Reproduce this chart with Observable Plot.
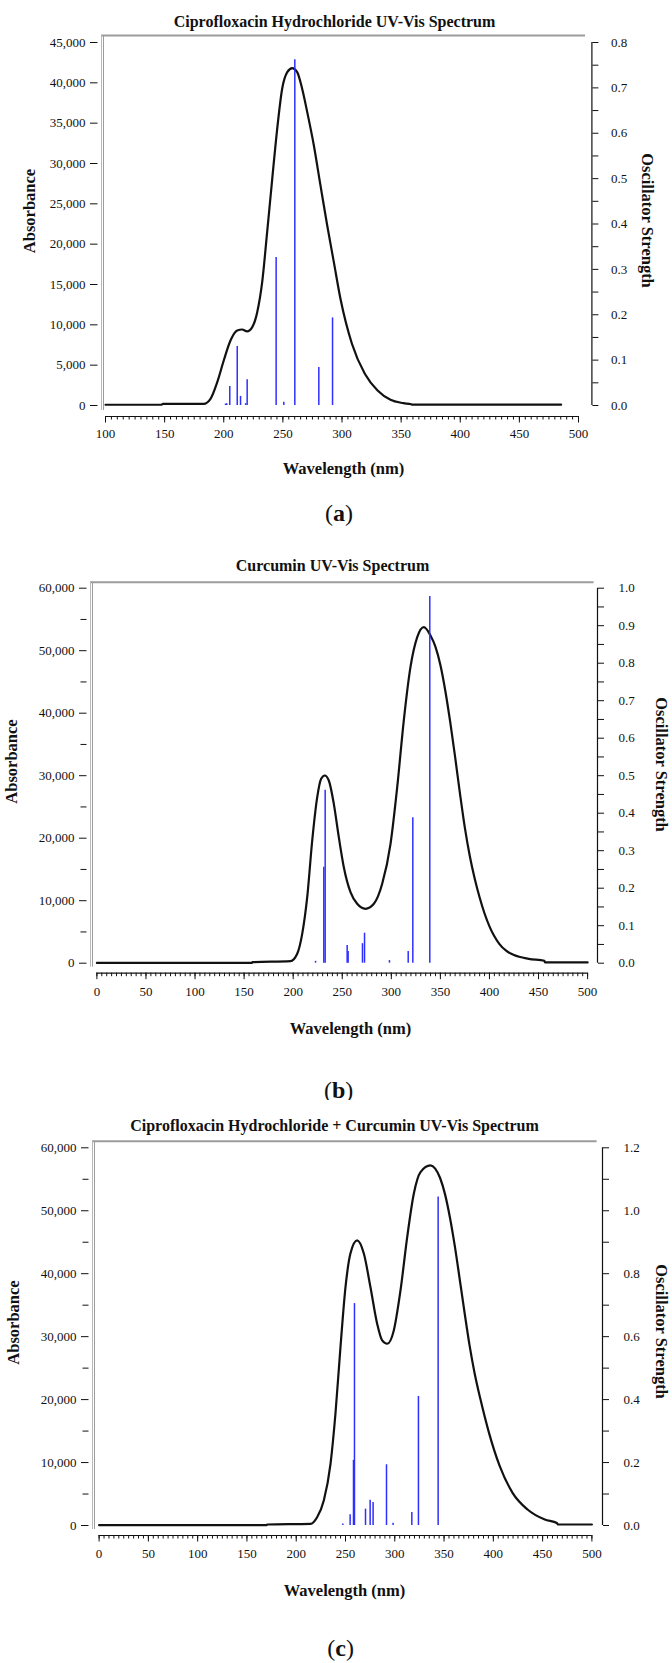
<!DOCTYPE html>
<html>
<head>
<meta charset="utf-8">
<script src="https://cdn.jsdelivr.net/npm/d3@7"></script>
<script src="https://cdn.jsdelivr.net/npm/@observablehq/plot@0.6"></script>
<style>
  body { margin: 0; background: #fff; }
  #root { position: relative; width: 672px; height: 1663px; overflow: hidden; background: #fff; }
  .panel { position: absolute; left: 0; }
  .cap { position: absolute; width: 80px; text-align: center; font-family: "Liberation Serif", "Times New Roman", serif; font-size: 24px; line-height: 28px; color: #111; }
</style>
</head>
<body>
<div id="root"></div>
<script>
// ---------- (a) Ciprofloxacin Hydrochloride ----------
const titleA = "Ciprofloxacin Hydrochloride UV-Vis Spectrum";
const wlA  = [100, 147.5, 148.5, 183, 188.8, 194.5, 200, 205.7, 211.4, 215.6, 219.8, 224.1, 228.3, 232.5, 236.7, 241, 245.2, 249.4, 253.7, 257.9, 262.1, 266.3, 270.6, 276.2, 281.8, 287.5, 293.1, 298.7, 308.4, 319.3, 330.1, 341, 351.9, 358.5, 359.5, 485.3];
const absA = [90, 90, 200, 210, 830, 2900, 5580, 8060, 9300, 9420, 9180, 9710, 11570, 15290, 21490, 28100, 34300, 39270, 41330, 41830, 41330, 39270, 36370, 32240, 27280, 22320, 17770, 13230, 7650, 3930, 1860, 700, 290, 150, 100, 100];
const stickWlA = [201.5, 202.5, 205.1, 211.4, 214.2, 218.5, 219.8, 244.3, 250.8, 260.1, 280.4, 292.0];
const stickFA  = [0.003, 0.004, 0.042, 0.130, 0.020, 0.004, 0.057, 0.326, 0.007, 0.762, 0.084, 0.193];
const xTicksA = [100, 150, 200, 250, 300, 350, 400, 450, 500];
const yTicksA = [0, 5000, 10000, 15000, 20000, 25000, 30000, 35000, 40000, 45000];
const yMinorA = [];
const fTicksA = [0.0, 0.1, 0.2, 0.3, 0.4, 0.5, 0.6, 0.7, 0.8];
const fMinorA = [0.05, 0.15, 0.25, 0.35, 0.45, 0.55, 0.65, 0.75];

// ---------- (b) Curcumin ----------
const titleB = "Curcumin UV-Vis Spectrum";
const wlB  = [0, 158, 158.5, 197.3, 204.1, 209.2, 214.3, 219.4, 224.5, 228.5, 232.2, 236.3, 241.4, 246.5, 251.6, 258.4, 265.2, 273.7, 282.2, 290.7, 299.2, 306, 312.7, 319.5, 326.4, 333.1, 339.9, 345, 350, 355, 360, 365, 370, 375, 380, 385, 390, 395, 400, 405, 410, 417, 425, 440, 456, 456.5, 500];
const absB = [50, 50, 160, 320, 1500, 4700, 10560, 19630, 26560, 29500, 30030, 29230, 25500, 20160, 15360, 11360, 9500, 8700, 9500, 12700, 19100, 28160, 38830, 47360, 52160, 53760, 52430, 50600, 47700, 43600, 38600, 33000, 27100, 21600, 17100, 13500, 10500, 7950, 5900, 4300, 3100, 2000, 1300, 700, 400, 130, 130];
const stickWlB = [222.8, 231.2, 232.6, 255.0, 256.0, 270.6, 272.7, 298.1, 317.2, 321.9, 339.2];
const stickFB  = [0.005, 0.256, 0.461, 0.047, 0.031, 0.052, 0.080, 0.007, 0.031, 0.388, 0.978];
const xTicksB = [0, 50, 100, 150, 200, 250, 300, 350, 400, 450, 500];
const yTicksB = [0, 10000, 20000, 30000, 40000, 50000, 60000];
const yMinorB = [5000, 15000, 25000, 35000, 45000, 55000];
const fTicksB = [0.0, 0.1, 0.2, 0.3, 0.4, 0.5, 0.6, 0.7, 0.8, 0.9, 1.0];
const fMinorB = [0.05, 0.15, 0.25, 0.35, 0.45, 0.55, 0.65, 0.75, 0.85, 0.95];

// ---------- (c) Ciprofloxacin Hydrochloride + Curcumin ----------
const titleC = "Ciprofloxacin Hydrochloride + Curcumin UV-Vis Spectrum";
const wlC  = [0, 170, 170.5, 214.5, 221.2, 228, 234.8, 239.8, 244.9, 250, 255, 261.8, 268.6, 275.3, 282.1, 287.2, 292.3, 299, 305.8, 312.6, 319.3, 326.1, 336.2, 341, 346, 351, 356, 361, 366, 371, 376, 381, 387, 395.6, 406.5, 419.5, 434.7, 452.2, 464.5, 465.5, 500];
const absC = [50, 50, 160, 270, 1320, 3970, 9800, 17750, 28340, 37880, 43200, 45300, 43200, 37880, 32060, 29400, 28870, 30990, 37340, 45810, 52700, 56140, 57200, 56700, 55200, 52600, 48900, 44300, 39000, 33600, 28500, 24200, 20000, 14720, 9430, 5190, 2540, 950, 400, 160, 160];
const stickWlC = [247.3, 254.7, 258.1, 259.1, 270.3, 275.0, 278.0, 291.6, 298.3, 317.3, 324.0, 344.0];
const stickFC  = [0.005, 0.034, 0.207, 0.705, 0.052, 0.080, 0.073, 0.193, 0.007, 0.041, 0.410, 1.044];
const xTicksC = [0, 50, 100, 150, 200, 250, 300, 350, 400, 450, 500];
const yTicksC = [0, 10000, 20000, 30000, 40000, 50000, 60000];
const yMinorC = [5000, 15000, 25000, 35000, 45000, 55000];
const fTicksC = [0.0, 0.2, 0.4, 0.6, 0.8, 1.0, 1.2];
const fMinorC = [0.1, 0.3, 0.5, 0.7, 0.9, 1.1];

const xLabel = "Wavelength (nm)";
const yLabel = "Absorbance";
const rLabel = "Oscillator Strength";

const FONT = '"Liberation Serif", "Times New Roman", serif';
const root = document.getElementById("root");

function panel(o) {
  const kx = (o.xPix1 - o.xPix0) / (o.wl1 - o.wl0);
  const ky = (o.yPix0 - o.yPixMax) / o.yMax;
  const xDom = [o.wl0 - (o.xPix0 - o.frameL) / kx, o.wl1 + (o.frameR - o.xPix1) / kx];
  const yDom = [-(o.axisY - o.yPix0) / ky, o.yMax + (o.yPixMax - o.frameT) / ky];
  const yLeftBottom = -(o.axisY - 6 - o.yPix0) / ky;
  const k = o.yMax / o.fMax;
  const curve = o.wl.map((w, i) => ({wl: w, a: o.abs[i]}));
  const sticks = o.sWl.map((w, i) => ({wl: w, f: o.sF[i]}));
  const xMinor = d3.range(o.wl0, o.wl1 + 0.001, 5);
  const fmtY = d3.format(",");
  const txt = (s, x, y, extra) => Plot.text([s], {
    frameAnchor: "top-left", dx: x - o.frameL, dy: y - o.frameT,
    text: d => d, textAnchor: "middle", lineAnchor: "middle",
    fontWeight: "bold", fontSize: 16.5, fill: "#111", ...extra
  });
  const marks = [
    Plot.ruleY([yDom[1]], {x1: xDom[0], x2: xDom[1], stroke: "#9c9c9c", strokeWidth: 2}),
    Plot.ruleX([xDom[0]], {y1: yLeftBottom, y2: yDom[1], stroke: "#b8b8b8", strokeWidth: 1}),
    Plot.ruleX([xDom[0]], {y1: yLeftBottom, y2: yDom[1], stroke: "#9c9c9c", strokeWidth: 1, dx: 2}),
    Plot.ruleY([yDom[0]], {x1: o.wl0, x2: o.wl1, stroke: "#111", strokeWidth: 1.2}),
    Plot.axisX({ticks: xMinor, anchor: "bottom", tickSize: 3.5, tickFormat: () => "", label: null}),
    Plot.axisX({ticks: o.xTicks, anchor: "bottom", tickSize: 6.5, tickPadding: o.xPad, tickFormat: d => String(d), label: null}),
    Plot.axisY({ticks: o.yTicks, anchor: "left", tickSize: 7.5, tickPadding: 5, dx: -3.5, tickFormat: fmtY, label: null}),
    Plot.ruleX([xDom[1]], {y1: 0, y2: o.yMax, dx: o.rDx, stroke: "#111", strokeWidth: 1.2}),
    Plot.axisY({ticks: o.fTicks.map(f => f * k), anchor: "right", tickSize: 6, tickPadding: o.rPad, dx: o.rDx, tickFormat: d => (d / k).toFixed(1), label: null}),
    Plot.axisY({ticks: o.fMinor.map(f => f * k), anchor: "right", tickSize: 6, dx: o.rDx, tickFormat: () => "", label: null}),
    Plot.line(curve, {x: "wl", y: "a", curve: "monotone-x", stroke: "#111", strokeWidth: 2.2}),
    Plot.ruleX(sticks, {x: "wl", y1: 0, y2: d => d.f * k, stroke: "#2f2fff", strokeWidth: 1.5}),
    txt(o.title, o.titleX, o.titleY, {fontSize: 16}),
    txt(xLabel, o.xtX, o.xtY, {}),
    txt(yLabel, o.ytX, o.ytY, {rotate: -90}),
    txt(rLabel, o.rtX, o.rtY, {rotate: 90})
  ];
  if (o.yMinor.length) {
    marks.push(Plot.axisY({ticks: o.yMinor, anchor: "left", tickSize: 6, dx: -3.5, tickFormat: () => "", label: null}));
  }
  const svg = Plot.plot({
    width: 672, height: o.height,
    marginLeft: o.frameL, marginRight: 672 - o.frameR,
    marginTop: o.frameT - o.top, marginBottom: o.top + o.height - o.axisY,
    x: {domain: xDom, axis: null, label: null},
    y: {domain: yDom, axis: null, label: null},
    style: {fontFamily: FONT, fontSize: "13px", color: "#111", background: "white", overflow: "visible"},
    marks
  });
  const div = document.createElement("div");
  div.className = "panel";
  div.style.top = o.top + "px";
  div.appendChild(svg);
  root.appendChild(div);
  const cap = document.createElement("div");
  cap.className = "cap";
  cap.style.left = (o.capX - 40) + "px";
  cap.style.top = (o.capY - 14) + "px";
  cap.innerHTML = "(<b>" + o.cap + "</b>)";
  root.appendChild(cap);
}

panel({
  title: titleA, wl: wlA, abs: absA, sWl: stickWlA, sF: stickFA,
  xTicks: xTicksA, yTicks: yTicksA, yMinor: yMinorA, fTicks: fTicksA, fMinor: fMinorA,
  top: 0, height: 490, frameL: 101, frameR: 585, frameT: 35, axisY: 416,
  wl0: 100, xPix0: 105, wl1: 500, xPix1: 578,
  yPix0: 405, yPixMax: 42, yMax: 45000, fMax: 0.8,
  rDx: 6.4, rPad: 13, xPad: 6,
  titleX: 334, titleY: 21, xtX: 343, xtY: 468, ytX: 29, ytY: 210.5, rtX: 647, rtY: 220,
  cap: "a", capX: 339, capY: 513
});
panel({
  title: titleB, wl: wlB, abs: absB, sWl: stickWlB, sF: stickFB,
  xTicks: xTicksB, yTicks: yTicksB, yMinor: yMinorB, fTicks: fTicksB, fMinor: fMinorB,
  top: 545, height: 500, frameL: 90, frameR: 593.6, frameT: 581.7, axisY: 972.7,
  wl0: 0, xPix0: 96.4, wl1: 500, xPix1: 587.1,
  yPix0: 962.7, yPixMax: 587.7, yMax: 60000, fMax: 1.0,
  rDx: 3.4, rPad: 15, xPad: 7,
  titleX: 332, titleY: 565, xtX: 350, xtY: 1028, ytX: 11, ytY: 761, rtX: 661, rtY: 764,
  cap: "b", capX: 338.6, capY: 1090
});
panel({
  title: titleC, wl: wlC, abs: absC, sWl: stickWlC, sF: stickFC,
  xTicks: xTicksC, yTicks: yTicksC, yMinor: yMinorC, fTicks: fTicksC, fMinor: fMinorC,
  top: 1100, height: 510, frameL: 92, frameR: 596.6, frameT: 1140.7, axisY: 1535,
  wl0: 0, xPix0: 98.6, wl1: 500, xPix1: 591.4,
  yPix0: 1525, yPixMax: 1147.3, yMax: 60000, fMax: 1.2,
  rDx: 5.4, rPad: 15, xPad: 7,
  titleX: 334, titleY: 1125, xtX: 344, xtY: 1590, ytX: 13, ytY: 1322, rtX: 661, rtY: 1331,
  cap: "c", capX: 340.7, capY: 1648
});
</script>
</body>
</html>
